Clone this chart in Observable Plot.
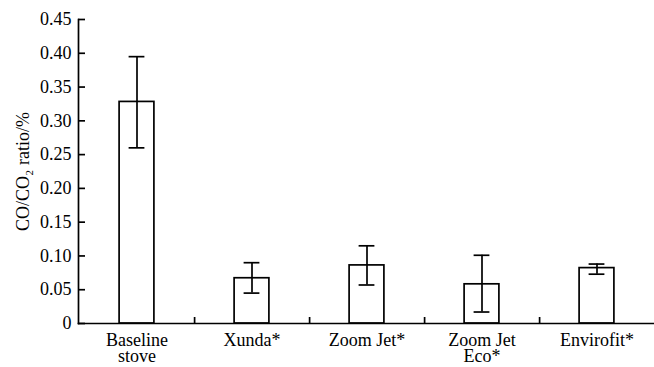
<!DOCTYPE html>
<html>
<head>
<meta charset="utf-8">
<script src="https://cdn.jsdelivr.net/npm/d3@7"></script>
<script src="https://cdn.jsdelivr.net/npm/@observablehq/plot@0.6"></script>
<style>
  html, body { margin: 0; padding: 0; background: #fff; }
  svg { display: block; }
</style>
</head>
<body>
<div id="chart"></div>
<script>
const categories = ["Baseline stove", "Xunda*", "Zoom Jet*", "Zoom Jet Eco*", "Envirofit*"];
const tickLabels = ["Baseline\nstove", "Xunda*", "Zoom Jet*", "Zoom Jet\nEco*", "Envirofit*"];
const values = [0.328, 0.067, 0.086, 0.058, 0.082];
const errLow = [0.260, 0.045, 0.057, 0.017, 0.073];
const errHigh = [0.395, 0.090, 0.115, 0.101, 0.088];
const yTicks = [0, 0.05, 0.10, 0.15, 0.20, 0.25, 0.30, 0.35, 0.40, 0.45];
const yLabel = "CO/CO\u2082 ratio/%";

const data = categories.map((c, i) => ({
  cat: c, label: tickLabels[i], value: values[i], lo: errLow[i], hi: errHigh[i]
}));
const separators = categories.slice(0, -1);

const W = 654, H = 367;
const mL = 78, mR = 0;
const band = (W - mL - mR) / categories.length;
const barW = 35, capW = 16;
const font = "Liberation Serif, Times New Roman, serif";

const chart = Plot.plot({
  width: W,
  height: H,
  marginLeft: mL,
  marginRight: mR,
  marginTop: 19,
  marginBottom: 44,
  style: { fontFamily: font, fontSize: "18px", color: "#000", background: "#fff" },
  x: { domain: categories, padding: 0 },
  y: { domain: [0, 0.45] },
  marks: [
    Plot.rectY(data, {
      x: "cat", y: "value", fill: "white", stroke: "#000", strokeWidth: 1.7,
      inset: (band - barW) / 2, insetTop: 0, insetBottom: 0
    }),
    Plot.ruleX(data, { x: "cat", y1: "lo", y2: "hi", stroke: "#000", strokeWidth: 1.7 }),
    Plot.tickY(data, { x: "cat", y: "lo", stroke: "#000", strokeWidth: 1.7, inset: (band - capW) / 2 }),
    Plot.tickY(data, { x: "cat", y: "hi", stroke: "#000", strokeWidth: 1.7, inset: (band - capW) / 2 }),
    Plot.ruleX(separators, { x: d => d, y1: 0, y2: 0, dx: band / 2, insetTop: -6, stroke: "#000", strokeWidth: 1.7 }),
    Plot.frame({ anchor: "left", stroke: "#000", strokeWidth: 1.7 }),
    Plot.frame({ anchor: "bottom", stroke: "#000", strokeWidth: 1.7 }),
    Plot.axisY({
      ticks: yTicks, tickSize: -7, tickPadding: 14, strokeWidth: 1.7,
      tickFormat: d => d === 0 ? "0" : d.toFixed(2),
      label: yLabel, labelAnchor: "center", labelArrow: "none", labelOffset: 62,
      fontSize: 18
    }),
    Plot.axisX({
      tickSize: 0, tickPadding: 11, fontSize: 18, lineHeight: 0.9,
      tickFormat: (d, i) => tickLabels[categories.indexOf(d)], label: null
    })
  ]
});
document.getElementById("chart").appendChild(chart);
</script>
</body>
</html>
